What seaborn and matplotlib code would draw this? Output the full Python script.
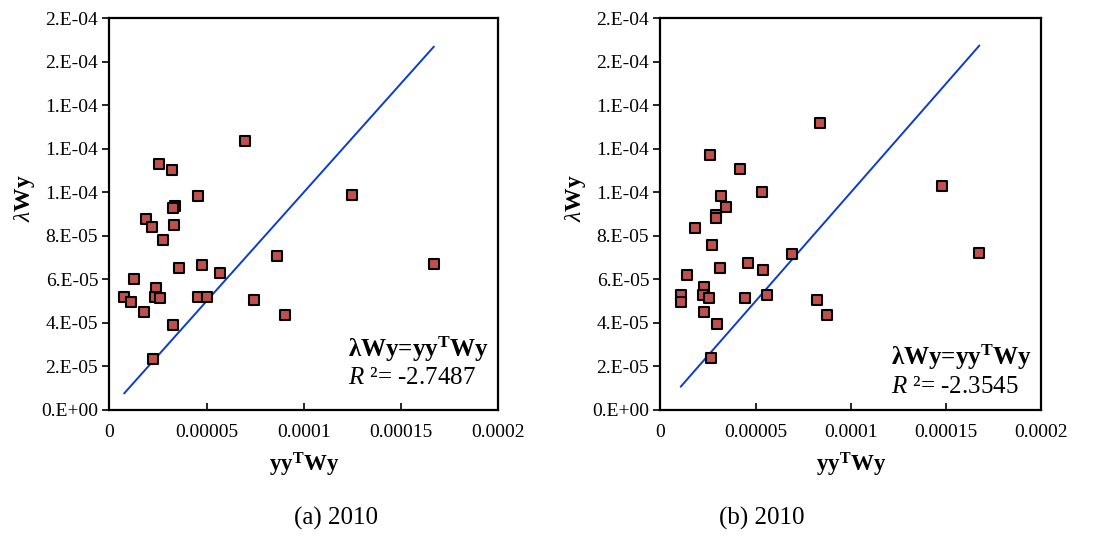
import numpy as np
import pandas as pd
import matplotlib
matplotlib.use("Agg")
import matplotlib.pyplot as plt
import seaborn as sns

# ---- data (values in 1e-6 units) ----
a_x = [69.9, 25.4, 32.1, 45.4, 124.9, 33.9, 32.5, 19.1, 21.8, 33.2, 27.7, 86.1, 167.0, 47.8, 35.6,
       56.9, 12.9, 7.6, 11.2, 24.1, 23.7, 26.1, 17.7, 45.6, 50.2, 74.6, 90.2, 32.5, 22.5]
a_y = [123.8, 113.1, 110.3, 98.2, 98.7, 93.8, 92.6, 87.8, 84.0, 85.1, 78.0, 70.7, 67.0, 66.7, 65.3,
       62.8, 60.2, 52.1, 49.5, 56.1, 52.1, 51.3, 45.2, 52.0, 52.1, 50.4, 43.7, 39.2, 23.3]
b_x = [84.0, 26.2, 41.7, 53.5, 147.7, 31.9, 34.5, 29.1, 29.1, 18.2, 27.3, 69.1, 167.5, 46.2, 31.3,
       53.9, 13.9, 10.7, 10.7, 23.1, 22.4, 25.4, 22.9, 44.3, 55.9, 82.3, 87.7, 29.9, 26.5]
b_y = [131.8, 117.1, 110.7, 100.2, 103.0, 98.5, 93.3, 89.8, 88.0, 83.8, 75.7, 71.9, 72.0, 67.7, 65.4,
       64.1, 62.2, 53.0, 49.7, 56.7, 52.7, 51.6, 45.1, 51.3, 52.9, 50.6, 43.7, 39.7, 23.8]

x_ticks = [0, 0.00005, 0.0001, 0.00015, 0.0002]
x_tick_labels = ["0", "0.00005", "0.0001", "0.00015", "0.0002"]
y_ticks = [0, 2e-5, 4e-5, 6e-5, 8e-5, 1e-4, 1.2e-4, 1.4e-4, 1.6e-4, 1.8e-4]
y_tick_labels = ["0.E+00", "2.E-05", "4.E-05", "6.E-05", "8.E-05",
                 "1.E-04", "1.E-04", "1.E-04", "2.E-04", "2.E-04"]
r2_values = ["-2.7487", "-2.3545"]
captions = ["(a) 2010", "(b) 2010"]

sns.set_theme(style="white")
plt.rcParams["font.family"] = ["Liberation Serif", "DejaVu Serif"]
plt.rcParams["mathtext.fontset"] = "custom"
plt.rcParams["mathtext.rm"] = "Liberation Serif"
plt.rcParams["mathtext.it"] = "Liberation Serif:italic"
plt.rcParams["mathtext.bf"] = "Liberation Serif:bold"
plt.rcParams["text.color"] = "black"
plt.rcParams["axes.labelcolor"] = "black"

fig = plt.figure(figsize=(10.98, 5.36), dpi=100)
axes_rects = [[0.0996, 0.2351, 0.354, 0.7308], [0.6014, 0.2351, 0.347, 0.7308]]
panels = [(a_x, a_y), (b_x, b_y)]
text_pos = [(0.614, 0.156, 0.082), (0.605, 0.135, 0.059)]
cap_pos = [0.306, 0.694]
ylab_x = [0.022, 0.524]

for i, ((xs, ys), rect) in enumerate(zip(panels, axes_rects)):
    ax = fig.add_axes(rect)
    df = pd.DataFrame({"x": np.array(xs) * 1e-6, "y": np.array(ys) * 1e-6})
    lo, hi = df["x"].min(), df["x"].max()
    line_df = pd.DataFrame({"x": [lo, hi], "y": [lo, hi]})
    sns.lineplot(data=line_df, x="x", y="y", ax=ax, color="#0A3CD2", linewidth=1.4, zorder=2)
    sns.scatterplot(data=df, x="x", y="y", ax=ax, marker="s", s=42, color="#C0504D",
                    edgecolor="black", linewidth=1.5, zorder=3)
    ax.set_xlim(0, 0.0002)
    ax.set_ylim(0, 1.8e-4)
    ax.set_xticks(x_ticks)
    ax.set_xticklabels(x_tick_labels)
    ax.set_yticks(y_ticks)
    ax.set_yticklabels(y_tick_labels)
    ax.tick_params(axis="x", direction="in", length=5, width=1.2, colors="black",
                   labelsize=14, pad=10, bottom=True)
    ax.tick_params(axis="y", direction="out", length=5, width=1.2, colors="black",
                   labelsize=14, pad=3, left=True)
    for sp in ax.spines.values():
        sp.set_visible(True)
        sp.set_color("black")
        sp.set_linewidth(1.6)
    ax.set_xlabel(r"yy$^{\mathbf{T}}$Wy", fontsize=16.5, fontweight="bold", labelpad=7,
                  color="black")
    ax.set_ylabel("")
    fig.text(ylab_x[i], 0.63, r"$\lambda$Wy", rotation=90, fontsize=17, fontweight="bold",
             ha="center", va="center", color="black")
    tx, ty1, ty2 = text_pos[i]
    ax.text(tx, ty1, r"λWy=yy$^{\mathbf{T}}$Wy", transform=ax.transAxes, fontsize=18,
            fontweight="bold", ha="left", va="center", color="black")
    ax.text(tx, ty2, r"$R$ ²= " + r2_values[i], transform=ax.transAxes, fontsize=18,
            ha="left", va="center", color="black")
    fig.text(cap_pos[i], 0.032, captions[i], fontsize=18, ha="center", va="center",
             color="black")

fig.savefig("out.png", dpi=100)
